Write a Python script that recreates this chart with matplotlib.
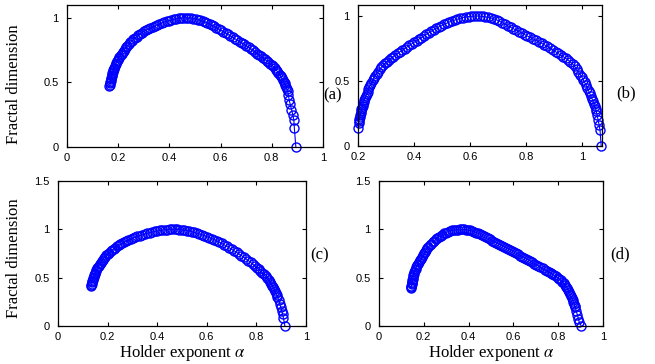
import matplotlib
matplotlib.use("Agg")
from matplotlib import pyplot as plt

plt.rcParams['mathtext.fontset'] = 'stix'
plt.rcParams['font.family'] = ['Liberation Sans', 'DejaVu Sans']

# (alpha, f(alpha)) points
pts_a = [
  (0.166, 0.470), (0.167, 0.480), (0.168, 0.492), (0.169, 0.503), (0.170, 0.514),
  (0.171, 0.525), (0.172, 0.536), (0.174, 0.548), (0.175, 0.559), (0.177, 0.570),
  (0.179, 0.582), (0.181, 0.593), (0.183, 0.604), (0.185, 0.615), (0.188, 0.628),
  (0.190, 0.640), (0.193, 0.653), (0.196, 0.665), (0.199, 0.677), (0.202, 0.688),
  (0.205, 0.699), (0.209, 0.711), (0.213, 0.723), (0.217, 0.735), (0.221, 0.747),
  (0.226, 0.760), (0.231, 0.773), (0.236, 0.785), (0.241, 0.797), (0.247, 0.810),
  (0.253, 0.822), (0.259, 0.833), (0.265, 0.844), (0.272, 0.855), (0.279, 0.866),
  (0.286, 0.876), (0.293, 0.886), (0.301, 0.895), (0.309, 0.904), (0.317, 0.912),
  (0.325, 0.921), (0.334, 0.930), (0.343, 0.938), (0.352, 0.946), (0.361, 0.953),
  (0.370, 0.960), (0.379, 0.967), (0.389, 0.973), (0.398, 0.979), (0.408, 0.984),
  (0.417, 0.989), (0.427, 0.993), (0.436, 0.996), (0.446, 0.998), (0.455, 1.000),
  (0.465, 1.000), (0.474, 0.999), (0.484, 0.998), (0.493, 0.995), (0.503, 0.992),
  (0.512, 0.987), (0.521, 0.982), (0.530, 0.975), (0.539, 0.968), (0.548, 0.960),
  (0.557, 0.952), (0.566, 0.943), (0.575, 0.934), (0.584, 0.924), (0.593, 0.914),
  (0.602, 0.904), (0.611, 0.893), (0.620, 0.883), (0.629, 0.872), (0.638, 0.861),
  (0.647, 0.850), (0.656, 0.839), (0.665, 0.828), (0.674, 0.817), (0.683, 0.806),
  (0.692, 0.795), (0.701, 0.784), (0.710, 0.772), (0.718, 0.760), (0.727, 0.748),
  (0.735, 0.736), (0.743, 0.724), (0.751, 0.712), (0.759, 0.701), (0.766, 0.690),
  (0.773, 0.679), (0.780, 0.668), (0.787, 0.657), (0.793, 0.646), (0.799, 0.635),
  (0.805, 0.624), (0.811, 0.612), (0.816, 0.600), (0.821, 0.587), (0.826, 0.574),
  (0.831, 0.561), (0.835, 0.547), (0.839, 0.534), (0.843, 0.520), (0.847, 0.506),
  (0.850, 0.492), (0.853, 0.478), (0.856, 0.464), (0.859, 0.450), (0.862, 0.435),
  (0.865, 0.400), (0.868, 0.365), (0.872, 0.330), (0.877, 0.290), (0.882, 0.250),
  (0.886, 0.210), (0.888, 0.150), (0.894, 0.000),
]

pts_b = [
  (0.200, 0.140), (0.202, 0.180), (0.203, 0.195), (0.205, 0.210), (0.206, 0.225),
  (0.208, 0.240), (0.209, 0.255), (0.211, 0.269), (0.212, 0.282), (0.214, 0.296),
  (0.216, 0.310), (0.218, 0.324), (0.220, 0.338), (0.222, 0.353), (0.225, 0.368),
  (0.228, 0.384), (0.231, 0.400), (0.234, 0.418), (0.237, 0.435), (0.240, 0.453),
  (0.244, 0.470), (0.248, 0.488), (0.252, 0.505), (0.256, 0.523), (0.261, 0.540),
  (0.266, 0.556), (0.271, 0.572), (0.277, 0.589), (0.283, 0.605), (0.289, 0.620),
  (0.296, 0.635), (0.303, 0.649), (0.310, 0.662), (0.317, 0.675), (0.325, 0.688),
  (0.333, 0.700), (0.341, 0.712), (0.349, 0.725), (0.358, 0.737), (0.366, 0.750),
  (0.375, 0.762), (0.383, 0.774), (0.392, 0.786), (0.400, 0.798), (0.409, 0.810),
  (0.417, 0.822), (0.426, 0.834), (0.434, 0.846), (0.443, 0.858), (0.452, 0.870),
  (0.461, 0.882), (0.470, 0.894), (0.479, 0.905), (0.488, 0.916), (0.498, 0.926),
  (0.507, 0.936), (0.517, 0.945), (0.526, 0.954), (0.536, 0.962), (0.545, 0.969),
  (0.555, 0.976), (0.565, 0.982), (0.575, 0.988), (0.585, 0.992), (0.595, 0.996),
  (0.605, 0.998), (0.615, 1.000), (0.625, 1.000), (0.635, 0.999), (0.645, 0.997),
  (0.655, 0.994), (0.665, 0.990), (0.675, 0.985), (0.685, 0.978), (0.695, 0.970),
  (0.705, 0.960), (0.715, 0.948), (0.725, 0.936), (0.735, 0.924), (0.745, 0.913),
  (0.755, 0.902), (0.765, 0.891), (0.775, 0.880), (0.785, 0.869), (0.795, 0.857),
  (0.805, 0.846), (0.815, 0.835), (0.825, 0.824), (0.835, 0.813), (0.845, 0.802),
  (0.855, 0.791), (0.865, 0.779), (0.875, 0.767), (0.885, 0.754), (0.895, 0.740),
  (0.905, 0.726), (0.914, 0.712), (0.923, 0.700), (0.932, 0.688), (0.941, 0.675),
  (0.950, 0.662), (0.958, 0.647), (0.966, 0.630), (0.973, 0.612), (0.980, 0.592),
  (0.987, 0.571), (0.993, 0.550), (0.999, 0.530), (1.004, 0.510), (1.009, 0.489),
  (1.014, 0.468), (1.019, 0.446), (1.023, 0.425), (1.027, 0.405), (1.031, 0.385),
  (1.035, 0.365), (1.039, 0.345), (1.042, 0.325), (1.045, 0.305), (1.048, 0.287),
  (1.050, 0.270), (1.054, 0.235), (1.057, 0.200), (1.061, 0.160), (1.064, 0.120),
  (1.068, 0.000),
]

pts_c = [
  (0.134, 0.410), (0.135, 0.423), (0.136, 0.435), (0.137, 0.450), (0.139, 0.465),
  (0.140, 0.480), (0.142, 0.495), (0.144, 0.510), (0.146, 0.525), (0.148, 0.539),
  (0.150, 0.553), (0.152, 0.567), (0.155, 0.580), (0.158, 0.595), (0.161, 0.610),
  (0.164, 0.625), (0.168, 0.640), (0.172, 0.655), (0.176, 0.670), (0.180, 0.685),
  (0.185, 0.700), (0.190, 0.715), (0.195, 0.730), (0.200, 0.744), (0.206, 0.758),
  (0.212, 0.772), (0.218, 0.785), (0.224, 0.798), (0.231, 0.810), (0.238, 0.823),
  (0.245, 0.835), (0.252, 0.847), (0.260, 0.858), (0.268, 0.869), (0.276, 0.880),
  (0.284, 0.890), (0.293, 0.900), (0.302, 0.909), (0.311, 0.918), (0.320, 0.927),
  (0.330, 0.935), (0.340, 0.944), (0.350, 0.952), (0.360, 0.959), (0.370, 0.966),
  (0.380, 0.972), (0.390, 0.978), (0.400, 0.983), (0.410, 0.988), (0.420, 0.992),
  (0.430, 0.995), (0.440, 0.997), (0.450, 0.999), (0.460, 1.000), (0.470, 1.000),
  (0.480, 0.999), (0.490, 0.998), (0.500, 0.995), (0.510, 0.992), (0.520, 0.987),
  (0.530, 0.982), (0.540, 0.975), (0.550, 0.968), (0.560, 0.960), (0.570, 0.952),
  (0.580, 0.943), (0.590, 0.934), (0.600, 0.925), (0.610, 0.915), (0.620, 0.904),
  (0.630, 0.893), (0.640, 0.881), (0.650, 0.868), (0.660, 0.854), (0.670, 0.840),
  (0.680, 0.825), (0.690, 0.810), (0.700, 0.794), (0.710, 0.778), (0.720, 0.762),
  (0.730, 0.745), (0.740, 0.728), (0.750, 0.710), (0.759, 0.693), (0.768, 0.675),
  (0.777, 0.658), (0.785, 0.640), (0.793, 0.623), (0.801, 0.605), (0.809, 0.588),
  (0.816, 0.570), (0.823, 0.552), (0.830, 0.533), (0.837, 0.514), (0.843, 0.495),
  (0.849, 0.476), (0.854, 0.457), (0.859, 0.438), (0.864, 0.418), (0.868, 0.399),
  (0.872, 0.380), (0.876, 0.361), (0.879, 0.342), (0.882, 0.324), (0.885, 0.305),
  (0.890, 0.268), (0.894, 0.232), (0.898, 0.196), (0.902, 0.160), (0.906, 0.120),
  (0.909, 0.085), (0.915, 0.000),
]

pts_d = [
  (0.144, 0.390), (0.144, 0.402), (0.145, 0.415), (0.146, 0.430), (0.147, 0.445),
  (0.148, 0.460), (0.149, 0.475), (0.150, 0.490), (0.152, 0.505), (0.154, 0.523),
  (0.156, 0.540), (0.158, 0.558), (0.161, 0.575), (0.164, 0.593), (0.167, 0.610),
  (0.170, 0.628), (0.174, 0.645), (0.178, 0.663), (0.182, 0.680), (0.186, 0.698),
  (0.191, 0.715), (0.195, 0.733), (0.200, 0.750), (0.205, 0.768), (0.210, 0.785),
  (0.215, 0.803), (0.221, 0.820), (0.227, 0.836), (0.233, 0.852), (0.239, 0.867),
  (0.246, 0.882), (0.253, 0.896), (0.260, 0.910), (0.267, 0.923), (0.275, 0.935),
  (0.283, 0.946), (0.291, 0.957), (0.299, 0.966), (0.308, 0.975), (0.316, 0.982),
  (0.325, 0.988), (0.334, 0.992), (0.343, 0.996), (0.352, 0.998), (0.361, 1.000),
  (0.370, 1.000), (0.379, 0.999), (0.388, 0.997), (0.397, 0.993), (0.406, 0.988),
  (0.415, 0.982), (0.424, 0.975), (0.433, 0.967), (0.442, 0.958), (0.451, 0.948),
  (0.460, 0.938), (0.469, 0.928), (0.478, 0.917), (0.487, 0.906), (0.496, 0.895),
  (0.505, 0.884), (0.514, 0.873), (0.523, 0.862), (0.532, 0.851), (0.541, 0.840),
  (0.550, 0.829), (0.559, 0.818), (0.568, 0.807), (0.577, 0.796), (0.586, 0.785),
  (0.595, 0.774), (0.604, 0.762), (0.613, 0.751), (0.622, 0.740), (0.631, 0.728),
  (0.640, 0.717), (0.649, 0.705), (0.658, 0.694), (0.667, 0.682), (0.676, 0.670),
  (0.685, 0.657), (0.694, 0.645), (0.703, 0.632), (0.712, 0.620), (0.721, 0.607),
  (0.730, 0.595), (0.739, 0.583), (0.748, 0.572), (0.757, 0.560), (0.766, 0.549),
  (0.774, 0.537), (0.782, 0.525), (0.790, 0.512), (0.798, 0.499), (0.805, 0.486),
  (0.812, 0.472), (0.818, 0.457), (0.824, 0.441), (0.830, 0.425), (0.835, 0.408),
  (0.840, 0.390), (0.845, 0.371), (0.849, 0.352), (0.853, 0.332), (0.857, 0.312),
  (0.861, 0.292), (0.864, 0.272), (0.867, 0.252), (0.870, 0.232), (0.873, 0.212),
  (0.876, 0.192), (0.881, 0.152), (0.886, 0.112), (0.890, 0.075), (0.894, 0.040),
  (0.903, 0.000),
]

xticks_01 = [0, 0.2, 0.4, 0.6, 0.8, 1]
xlabels_01 = ['0', '0.2', '0.4', '0.6', '0.8', '1']
xticks_b = [0.2, 0.4, 0.6, 0.8, 1]
xlabels_b = ['0.2', '0.4', '0.6', '0.8', '1']
yticks_top = [0, 0.5, 1]
ylabels_top = ['0', '0.5', '1']
yticks_bot = [0, 0.5, 1, 1.5]
ylabels_bot = ['0', '0.5', '1', '1.5']
panel_tags = ['(a)', '(b)', '(c)', '(d)']

serif = ['Liberation Serif', 'DejaVu Serif']

fig = plt.figure(figsize=(6.55, 3.64), dpi=100)

panels = [
  # points, rect, xlim, ylim, xticks, xlabels, yticks, ylabels, tag pos
  (pts_a, [0.1023, 0.5962, 0.3908, 0.3901], (0, 1), (0, 1.10),
   xticks_01, xlabels_01, yticks_top, ylabels_top, (333, 95)),
  (pts_b, [0.5466, 0.5989, 0.3725, 0.3874], (0.2, 1.071), (0, 1.085),
   xticks_b, xlabels_b, yticks_top, ylabels_top, (626, 93)),
  (pts_c, [0.0885, 0.1044, 0.3786, 0.3984], (0, 1), (0, 1.5),
   xticks_01, xlabels_01, yticks_bot, ylabels_bot, (320, 255)),
  (pts_d, [0.5786, 0.1044, 0.3420, 0.3984], (0, 1), (0, 1.5),
   xticks_01, xlabels_01, yticks_bot, ylabels_bot, (620, 254)),
]

axes = []
for i, (pts, rect, xl, yl, xt, xtl, yt, ytl, tag) in enumerate(panels):
  x = [p[0] for p in pts]
  y = [p[1] for p in pts]
  ax = fig.add_axes(rect)
  ax.plot(x, y, '-o', color='#0000ff', lw=0.8, ms=6.5, mfc='none',
          mew=1.0, clip_on=False)
  ax.set_xlim(*xl)
  ax.set_ylim(*yl)
  ax.set_xticks(xt)
  ax.set_xticklabels(xtl)
  ax.set_yticks(yt)
  ax.set_yticklabels(ytl)
  ax.tick_params(direction='in', length=3, width=0.8, labelsize=8,
                 top=True, right=True, colors='black')
  ax.tick_params(axis='x', pad=4)
  ax.tick_params(axis='y', pad=6)
  for s in ax.spines.values():
    s.set_linewidth(0.9)
  fig.text(tag[0] / 655, 1 - tag[1] / 364, panel_tags[i], family=serif,
           fontsize=12, ha='center', va='center')
  axes.append(ax)

axes[0].set_ylabel('Fractal dimension', family=serif, fontsize=12)
axes[0].yaxis.set_label_coords(-0.176, 0.44)
axes[2].set_ylabel('Fractal dimension', family=serif, fontsize=12)
axes[2].yaxis.set_label_coords(-0.145, 0.47)
axes[2].set_xlabel(r'Holder exponent $\alpha$', family=serif, fontsize=12,
                   labelpad=1)
axes[3].set_xlabel(r'Holder exponent $\alpha$', family=serif, fontsize=12,
                   labelpad=1)

plt.savefig('out.png', dpi=100)
